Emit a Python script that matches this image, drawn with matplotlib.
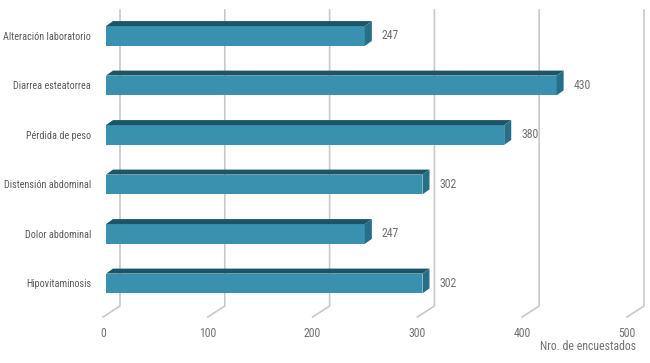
import matplotlib.pyplot as plt
from matplotlib.patches import Polygon
from matplotlib.lines import Line2D

sintomas = ["Alteración laboratorio", "Diarrea esteatorrea", "Pérdida de peso",
            "Distensión abdominal", "Dolor abdominal", "Hipovitaminosis"]
encuestados = [247, 430, 380, 302, 247, 302]
ticks = [0, 100, 200, 300, 400, 500]

fam = ['Roboto Condensed', 'DejaVu Sans']
c_front = '#3a90af'
c_top = '#1c5566'
c_side = '#266f86'
c_grid = '#c8c8c8'
c_text = '#5a5a5a'

W, H = 650, 363
fig = plt.figure(figsize=(W / 100, H / 100), dpi=100)
ax = fig.add_axes([103 / W, 46 / H, 524 / W, 317 / H])
ax.patch.set_visible(False)
ax.set_xlim(0, 500)
ax.set_ylim(5.677, -0.727)
for s in ax.spines.values():
    s.set_visible(False)

# depth offsets in pixels
fdx = 3            # bar front face shift
bdx, bdy = 7, 5    # bar depth
gdx, gdy = 17, 11  # floor depth for grid

to_px = ax.transData.transform

# grid lines: floor slant + back wall vertical
for t in ticks:
    x0, y0 = to_px((t, 5.677))
    xs = [x0, x0 + gdx, x0 + gdx]
    ys = [y0, y0 + gdy, H - 10]
    fig.add_artist(Line2D(xs, ys, transform=None, color=c_grid, lw=1.2, zorder=1))

h = 0.4
for i, v in enumerate(encuestados):
    (xl, yt), (xr, yb) = to_px((0, i - h / 2)), to_px((v, i + h / 2))
    xl += fdx
    xr += fdx
    front = Polygon([(xl, yb), (xr, yb), (xr, yt), (xl, yt)], closed=True,
                    transform=None, facecolor=c_front, edgecolor='none', zorder=3)
    top = Polygon([(xl, yt), (xr, yt), (xr + bdx, yt + bdy), (xl + bdx, yt + bdy)],
                  closed=True, transform=None, facecolor=c_top, edgecolor='none', zorder=3)
    side = Polygon([(xr, yb), (xr + bdx, yb + bdy), (xr + bdx, yt + bdy), (xr, yt)],
                   closed=True, transform=None, facecolor=c_side, edgecolor='none', zorder=3)
    for p in (front, top, side):
        fig.add_artist(p)
    fig.text((xr + 17) / W, ((yt + yb) / 2) / H, str(v), ha='left', va='center',
             fontsize=8.5, color='#707070', family=fam)

ax.set_xticks(ticks)
ax.set_xticklabels([str(t) for t in ticks], fontsize=8.5, color='#707070', family=fam)
ax.set_yticks(range(len(sintomas)))
ax.set_yticklabels(sintomas, fontsize=7.3, color=c_text, family=fam)
ax.tick_params(axis='x', length=0, pad=7)
ax.tick_params(axis='y', length=0, pad=8.5)

fig.text(636 / W, (H - 347) / H, "Nro. de encuestados", ha='right', va='center',
         fontsize=8.5, color='#707070', family=fam)

fig.savefig("out.png", dpi=100)
